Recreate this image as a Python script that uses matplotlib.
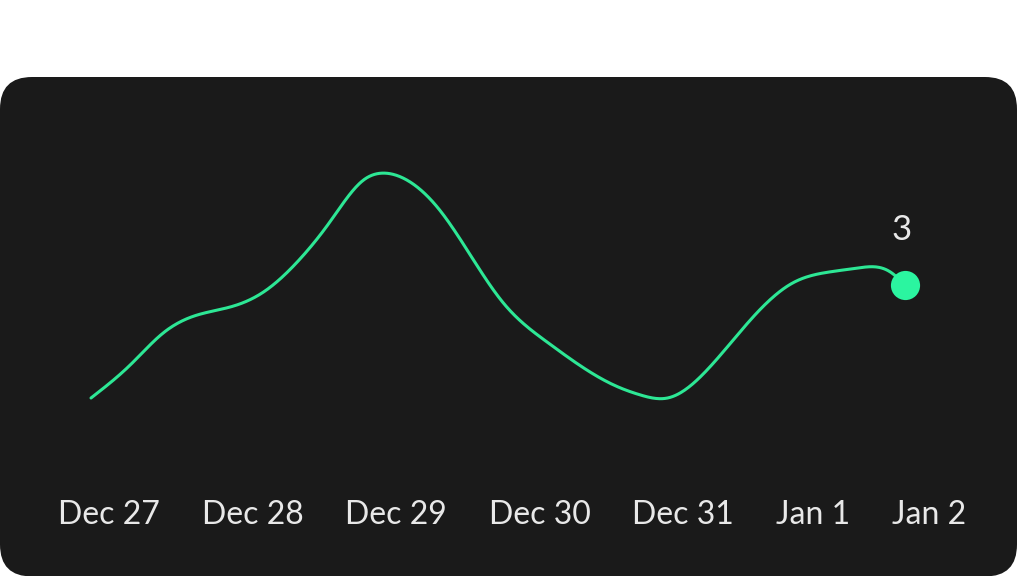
import numpy as np
import matplotlib
matplotlib.use("Agg")
import matplotlib.pyplot as plt
from matplotlib.patches import FancyBboxPatch

# ---- data ----
# time in days since Dec 27 00:00, value of the series
days = [0.00, 0.29, 0.53, 0.78, 1.03, 1.27, 1.52, 1.76, 2.01, 2.15, 2.30,
        2.57, 2.82, 3.04, 3.36, 3.85, 4.05, 4.25, 4.54, 4.88, 5.17, 5.45,
        5.65, 5.89, 6.00]
values = [0.00, 0.88, 1.72, 2.20, 2.42, 2.81, 3.61, 4.67, 5.79, 5.97, 5.84,
          4.99, 3.66, 2.52, 1.49, 0.35, 0.08, 0.00, 0.74, 2.15, 3.05, 3.35,
          3.45, 3.35, 3.00]
tick_labels = ["Dec 27", "Dec 28", "Dec 29", "Dec 30", "Dec 31", "Jan 1", "Jan 2"]
last_value = 3

# ---- style ----
W, H = 1018, 576
DPI = 100
BG_CARD = "#1a1a1a"
GREEN = "#2de795"
MARK = "#2bf5a0"
TXT = "#e8e8e8"
FONT = ["Lato", "DejaVu Sans"]


def smooth(x, y, n=30):
    """Natural cubic spline through the points."""
    x = np.asarray(x, float)
    y = np.asarray(y, float)
    k = len(x)
    h = np.diff(x)
    A = np.zeros((k, k))
    b = np.zeros(k)
    A[0, 0] = A[-1, -1] = 1.0
    for i in range(1, k - 1):
        A[i, i - 1] = h[i - 1]
        A[i, i] = 2 * (h[i - 1] + h[i])
        A[i, i + 1] = h[i]
        b[i] = 3 * ((y[i + 1] - y[i]) / h[i] - (y[i] - y[i - 1]) / h[i - 1])
    c = np.linalg.solve(A, b)
    xs, ys = [], []
    for i in range(k - 1):
        bi = (y[i + 1] - y[i]) / h[i] - h[i] * (2 * c[i] + c[i + 1]) / 3
        di = (c[i + 1] - c[i]) / (3 * h[i])
        t = np.linspace(0, h[i], n, endpoint=False)
        xs.append(x[i] + t)
        ys.append(y[i] + bi * t + c[i] * t**2 + di * t**3)
    xs.append([x[-1]])
    ys.append([y[-1]])
    return np.concatenate(xs), np.concatenate(ys)


fig = plt.figure(figsize=(W / DPI, H / DPI), dpi=DPI, facecolor="white")

# background card (pixel-coordinate axes)
bg = fig.add_axes([0, 0, 1, 1])
bg.set_xlim(0, W)
bg.set_ylim(0, H)
bg.axis("off")
card = FancyBboxPatch((0, -0.5), W - 1, H - 77 + 0.5,
                      boxstyle="round,pad=0,rounding_size=32",
                      facecolor=BG_CARD, edgecolor="none")
bg.add_patch(card)

# data axes
x0, x1 = 91, 905
y0, y1 = 398, 172
ax = fig.add_axes([x0 / W, (H - y0) / H, (x1 - x0) / W, (y0 - y1) / H])
ax.set_xlim(0, 6)
ax.set_ylim(0, 6)
ax.axis("off")
ax.patch.set_alpha(0)

sx, sy = smooth(days, values)
ax.plot(sx, sy, color=GREEN, lw=2.2, solid_capstyle="round", clip_on=False)
ax.plot([days[-1]], [values[-1]], "o", ms=21, color=MARK, mec="none",
        clip_on=False, zorder=5)
ax.annotate(f"{last_value}", xy=(days[-1], values[-1]), xytext=(-2.2, 32.5),
            textcoords="offset points", ha="center", va="baseline",
            color=TXT, fontsize=25, family=FONT)

# x labels laid out with equal gaps between left and right edges
left_px, right_px, base_px = 58, 966, 524
texts = [fig.text(0, (H - base_px) / H, lab, ha="left", va="baseline",
                  color=TXT, fontsize=23, family=FONT)
         for lab in tick_labels]
r = fig.canvas.get_renderer()
widths = [t.get_window_extent(renderer=r).width for t in texts]
gap = (right_px - left_px - sum(widths)) / (len(widths) - 1)
pos = left_px
for t, w in zip(texts, widths):
    t.set_x(pos / W)
    pos += w + gap

fig.savefig("out.png", dpi=DPI, facecolor="white")
